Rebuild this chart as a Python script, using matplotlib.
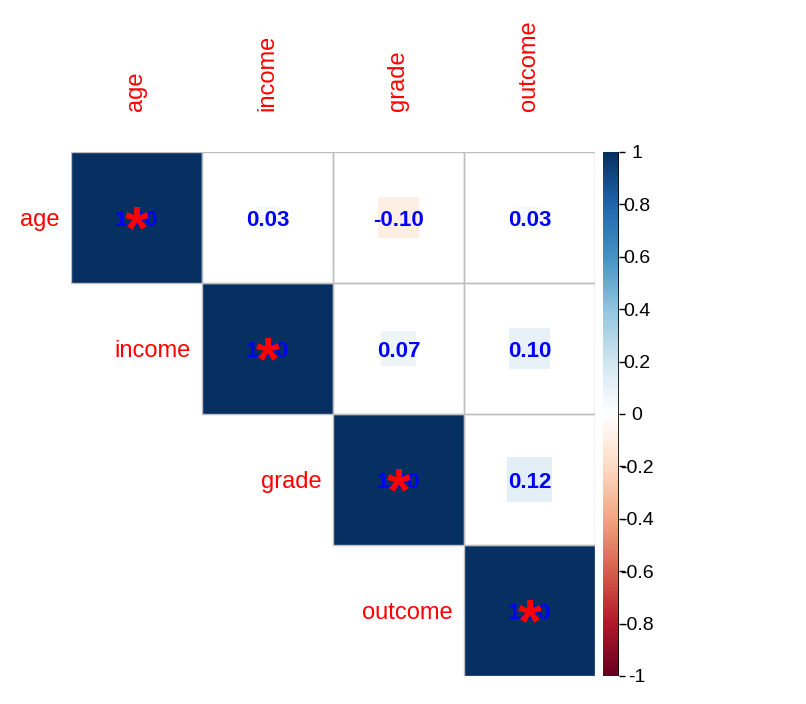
import numpy as np
import matplotlib
matplotlib.use("Agg")
import matplotlib.pyplot as plt
from matplotlib.colors import LinearSegmentedColormap, Normalize
from matplotlib.cm import ScalarMappable
from matplotlib.patches import Rectangle

plt.rcParams['font.family'] = ['Liberation Sans', 'DejaVu Sans']

# variables et matrice de correlation (triangle superieur)
labels = ["age", "income", "grade", "outcome"]
corr = np.array([
    [1.00, 0.03, -0.10, 0.03],
    [0.03, 1.00, 0.07, 0.10],
    [-0.10, 0.07, 1.00, 0.12],
    [0.03, 0.10, 0.12, 1.00],
])
# cellules significatives (p < 0.05)
signif = np.array([
    [True, False, False, False],
    [False, True, False, False],
    [False, False, True, False],
    [False, False, False, True],
])
cbar_ticks = [-1, -0.8, -0.6, -0.4, -0.2, 0, 0.2, 0.4, 0.6, 0.8, 1]
cbar_labels = ["-1", "-0.8", "-0.6", "-0.4", "-0.2", "0", "0.2", "0.4", "0.6", "0.8", "1"]

# palette RdBu comme corrplot
rdbu = ["#67001F", "#B2182B", "#D6604D", "#F4A582", "#FDDBC7", "#FFFFFF",
        "#D1E5F0", "#92C5DE", "#4393C3", "#2166AC", "#053061"]
cmap = LinearSegmentedColormap.from_list("rdbu_corr", rdbu, N=200)
norm = Normalize(-1, 1)

W, H = 806, 704
fig = plt.figure(figsize=(W / 100, H / 100), dpi=100)
ax = fig.add_axes([71 / W, 28 / H, 524 / W, 524 / H])
ax.set_xlim(0, 4)
ax.set_ylim(4, 0)
ax.axis('off')

dy = 0.02  # petit decalage vertical des textes
n = len(labels)
for i in range(n):
    for j in range(i, n):
        r = corr[i, j]
        side = np.sqrt(abs(r))
        ax.add_patch(Rectangle((j + 0.5 - side / 2, i + 0.5 - side / 2), side, side,
                               facecolor=cmap(norm(r)), edgecolor='none', zorder=1))
        ax.add_patch(Rectangle((j, i), 1, 1, facecolor='none', edgecolor='#BEBEBE',
                               lw=1, zorder=2))
        ax.text(j + 0.5, i + 0.5 + dy, "%.2f" % r, color='#0000FF', fontsize=16,
                fontweight='bold', ha='center', va='center', zorder=3)
        if signif[i, j]:
            fs = 44
            ax.annotate("*", (j + 0.5, i + 0.5), xytext=(0, -0.5 * fs),
                        textcoords='offset points', color='#FF0000', fontsize=fs,
                        fontweight='bold', ha='center', va='baseline', zorder=4)

# etiquettes
for k, lab in enumerate(labels):
    ax.text(k + 0.5, -0.31, lab, rotation=90, color='#FF0000', fontsize=17,
            ha='center', va='bottom', clip_on=False)
    ax.text(k - 0.085, k + 0.5 + dy, lab, color='#FF0000', fontsize=17,
            ha='right', va='center', clip_on=False)

# legende de couleur
cax = fig.add_axes([603 / W, 28 / H, 16 / W, 524 / H])
sm = ScalarMappable(norm=norm, cmap=cmap)
cb = fig.colorbar(sm, cax=cax, ticks=cbar_ticks)
cb.outline.set_visible(False)
cax.axvline(1, color='black', lw=1.2)
cax.set_yticklabels(cbar_labels)
cax.tick_params(axis='y', length=4, width=1, pad=9, labelsize=14, right=True)
for t in cax.get_yticklabels():
    t.set_ha('center')

fig.savefig("out.png", dpi=100)
